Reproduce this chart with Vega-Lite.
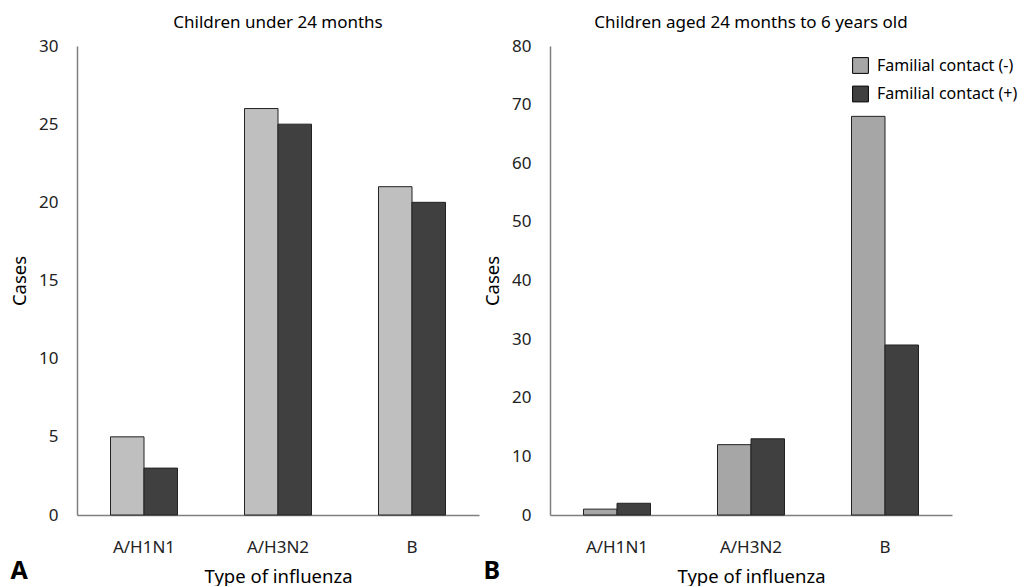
{
  "$schema": "https://vega.github.io/schema/vega-lite/v6.json",
  "padding": {"left": 10, "top": 14, "right": 5, "bottom": 0},
  "background": "white",
  "datasets": {
    "under24": [
      {"type": "A/H1N1", "contact": "Familial contact (-)", "cases": 5},
      {"type": "A/H1N1", "contact": "Familial contact (+)", "cases": 3},
      {"type": "A/H3N2", "contact": "Familial contact (-)", "cases": 26},
      {"type": "A/H3N2", "contact": "Familial contact (+)", "cases": 25},
      {"type": "B", "contact": "Familial contact (-)", "cases": 21},
      {"type": "B", "contact": "Familial contact (+)", "cases": 20}
    ],
    "aged24to6": [
      {"type": "A/H1N1", "contact": "Familial contact (-)", "cases": 1},
      {"type": "A/H1N1", "contact": "Familial contact (+)", "cases": 2},
      {"type": "A/H3N2", "contact": "Familial contact (-)", "cases": 12},
      {"type": "A/H3N2", "contact": "Familial contact (+)", "cases": 13},
      {"type": "B", "contact": "Familial contact (-)", "cases": 68},
      {"type": "B", "contact": "Familial contact (+)", "cases": 29}
    ]
  },
  "spacing": 4,
  "resolve": {"scale": {"fill": "independent", "y": "independent"}},
  "hconcat": [
    {
      "title": {"text": "A", "orient": "bottom", "anchor": "start", "frame": "bounds", "fontSize": 25, "fontWeight": "bold", "font": "Noto Sans", "offset": -27, "color": "#000"},
      "vconcat": [
        {
          "title": {"text": "Children under 24 months", "fontSize": 17, "fontWeight": "normal", "font": "Noto Sans", "color": "#000", "offset": 5, "anchor": "middle"},
          "width": 402,
          "height": 469,
          "data": {"name": "under24"},
          "mark": {"type": "bar", "stroke": "#222", "strokeWidth": 1},
          "encoding": {
            "x": {"field": "type", "type": "nominal", "sort": ["A/H1N1", "A/H3N2", "B"], "scale": {"paddingInner": 0.5, "paddingOuter": 0.25}, "title": "Type of influenza"},
            "xOffset": {"field": "contact", "type": "nominal", "sort": ["Familial contact (-)", "Familial contact (+)"], "scale": {"paddingInner": 0, "paddingOuter": 0}},
            "y": {"field": "cases", "type": "quantitative", "scale": {"domain": [0, 30], "nice": false}, "axis": {"values": [0, 5, 10, 15, 20, 25, 30]}, "title": "Cases"},
            "fill": {"field": "contact", "type": "nominal", "scale": {"domain": ["Familial contact (-)", "Familial contact (+)"], "range": ["#bfbfbf", "#404040"]}, "legend": null}
          }
        }
      ]
    },
    {
      "title": {"text": "B", "orient": "bottom", "anchor": "start", "frame": "bounds", "fontSize": 25, "fontWeight": "bold", "font": "Noto Sans", "offset": -27, "color": "#000"},
      "vconcat": [
        {
          "title": {"text": "Children aged 24 months to 6 years old", "fontSize": 17, "fontWeight": "normal", "font": "Noto Sans", "color": "#000", "offset": 5, "anchor": "middle"},
          "width": 402,
          "height": 469,
          "data": {"name": "aged24to6"},
          "mark": {"type": "bar", "stroke": "#222", "strokeWidth": 1},
          "encoding": {
            "x": {"field": "type", "type": "nominal", "sort": ["A/H1N1", "A/H3N2", "B"], "scale": {"paddingInner": 0.5, "paddingOuter": 0.25}, "title": "Type of influenza"},
            "xOffset": {"field": "contact", "type": "nominal", "sort": ["Familial contact (-)", "Familial contact (+)"], "scale": {"paddingInner": 0, "paddingOuter": 0}},
            "y": {"field": "cases", "type": "quantitative", "scale": {"domain": [0, 80], "nice": false}, "axis": {"values": [0, 10, 20, 30, 40, 50, 60, 70, 80]}, "title": "Cases"},
            "fill": {"field": "contact", "type": "nominal", "scale": {"domain": ["Familial contact (-)", "Familial contact (+)"], "range": ["#a6a6a6", "#404040"]},
              "legend": {"title": null, "orient": "none", "legendX": 302, "legendY": 11, "symbolType": "square", "symbolSize": 250, "symbolStrokeColor": "#000", "symbolStrokeWidth": 1, "labelFontSize": 16, "labelFont": "Noto Sans", "labelColor": "#000", "rowPadding": 7.5, "labelOffset": 8,
                "encode": {"symbols": {"update": {"fill": [{"test": "datum.value === 'Familial contact (-)'", "value": "#bfbfbf"}, {"value": "#595959"}], "stroke": {"value": "#000"}}}}}}
          }
        }
      ]
    }
  ],
  "config": {
    "view": {"stroke": null},
    "font": "Noto Sans",
    "axis": {
      "ticks": false,
      "grid": false,
      "domainColor": "#7f7f7f",
      "domainWidth": 1.5,
      "labelFont": "Noto Sans",
      "labelFontSize": 17,
      "labelColor": "#222",
      "titleFont": "Noto Sans",
      "titleFontSize": 18.5,
      "titleFontWeight": "normal",
      "titleColor": "#000"
    },
    "axisX": {"labelAngle": 0, "labelPadding": 24, "titlePadding": 12},
    "axisY": {"labelPadding": 19, "titlePadding": 9}
  }
}
